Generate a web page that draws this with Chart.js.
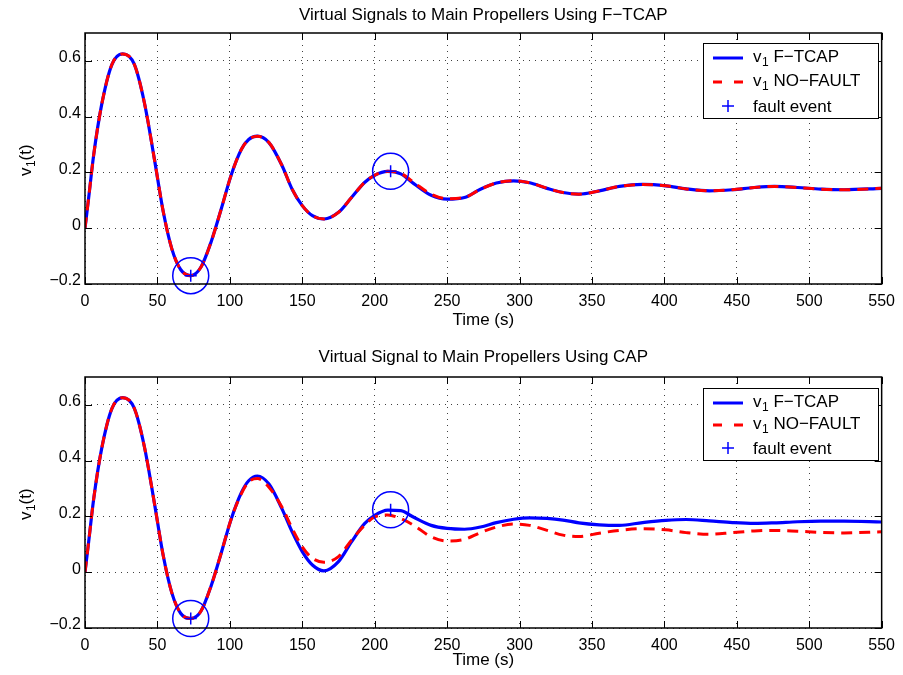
<!DOCTYPE html>
<html>
<head>
<meta charset="utf-8">
<script src="https://cdn.jsdelivr.net/npm/chart.js@4.4.0/dist/chart.umd.min.js"></script>
<style>
    html, body { margin: 0; padding: 0; background: #fff; }
    #wrap { position: relative; width: 903px; height: 675px; }
    canvas { position: absolute; left: 0; }
    #topChart { top: 0; }
    #bottomChart { top: 340px; }
</style>
</head>
<body>
<div id="wrap">
    <canvas id="topChart" width="903" height="340"></canvas>
    <canvas id="bottomChart" width="903" height="335"></canvas>
</div>
<script>
// time samples (s)
const time = [0, 2.5, 6, 11.5, 18.5, 26, 34, 41, 48, 54, 60, 66, 73, 80, 87, 94, 101, 108, 113, 119,
    127, 136, 143, 150, 157, 165, 175, 184, 193, 200, 209, 218, 227, 239, 250, 262, 273, 284, 296, 307,
    319, 330, 341, 355, 369, 385, 401, 415, 431, 447, 462, 476, 492, 508, 524, 550];

// top plot: F-TCAP
const ftcapTop = [0, 0.108, 0.263, 0.443, 0.586, 0.625, 0.588, 0.45, 0.245, 0.06,
    -0.075, -0.148, -0.17, -0.14, -0.05, 0.068, 0.192, 0.283, 0.318, 0.33,
    0.307, 0.225, 0.14, 0.081, 0.045, 0.033, 0.057, 0.11, 0.164, 0.19,
    0.204, 0.195, 0.16, 0.118, 0.104, 0.11, 0.14, 0.162, 0.17, 0.163,
    0.143, 0.128, 0.122, 0.134, 0.15, 0.157, 0.152, 0.141, 0.134, 0.138,
    0.146, 0.15, 0.146, 0.14, 0.138, 0.143];
const nofaultTop = [0, 0.108, 0.263, 0.443, 0.586, 0.625, 0.588, 0.45, 0.245, 0.06,
    -0.075, -0.148, -0.17, -0.14, -0.05, 0.068, 0.192, 0.283, 0.318, 0.33,
    0.307, 0.225, 0.14, 0.081, 0.045, 0.033, 0.057, 0.11, 0.164, 0.19,
    0.204, 0.197, 0.164, 0.122, 0.106, 0.11, 0.14, 0.162, 0.17, 0.163,
    0.143, 0.128, 0.122, 0.134, 0.15, 0.157, 0.152, 0.141, 0.134, 0.138,
    0.146, 0.15, 0.146, 0.14, 0.138, 0.143];

// bottom plot: CAP
const ftcapBottom = [0, 0.108, 0.263, 0.443, 0.586, 0.626, 0.588, 0.45, 0.245, 0.06,
    -0.075, -0.147, -0.166, -0.14, -0.05, 0.068, 0.192, 0.286, 0.328, 0.345,
    0.316, 0.227, 0.145, 0.074, 0.026, 0.005, 0.038, 0.109, 0.174, 0.204,
    0.223, 0.221, 0.197, 0.168, 0.157, 0.154, 0.162, 0.178, 0.19, 0.195,
    0.193, 0.187, 0.177, 0.17, 0.168, 0.178, 0.186, 0.189, 0.184, 0.178,
    0.175, 0.177, 0.181, 0.183, 0.183, 0.18];
const nofaultBottom = [0, 0.108, 0.263, 0.443, 0.586, 0.626, 0.588, 0.45, 0.245, 0.06,
    -0.075, -0.147, -0.166, -0.14, -0.05, 0.068, 0.192, 0.282, 0.324, 0.336,
    0.305, 0.233, 0.157, 0.091, 0.05, 0.036, 0.056, 0.115, 0.168, 0.198,
    0.205, 0.192, 0.168, 0.127, 0.112, 0.118, 0.142, 0.162, 0.173, 0.168,
    0.15, 0.133, 0.128, 0.14, 0.15, 0.156, 0.152, 0.142, 0.136, 0.142,
    0.148, 0.15, 0.147, 0.143, 0.141, 0.145];

// fault events
const faultTimes = [73, 211];
const faultTop = [-0.17, 0.204];
const faultBottom = [-0.166, 0.224];

const xTicks = [0, 50, 100, 150, 200, 250, 300, 350, 400, 450, 500, 550];
const yTicks = [-0.2, 0, 0.2, 0.4, 0.6];

const FONT = '"Liberation Sans", Arial, Helvetica, sans-serif';

function pts(xs, ys) {
    return xs.map((t, i) => ({ x: t, y: ys[i] }));
}

function drawSubText(ctx, x, y, main, sub, rest, size) {
    // draws e.g. v_1 NO-FAULT, left aligned at baseline y
    ctx.font = size + 'px ' + FONT;
    ctx.fillText(main, x, y);
    x += ctx.measureText(main).width;
    ctx.font = Math.round(size * 0.72) + 'px ' + FONT;
    ctx.fillText(sub, x + 0.5, y + 4);
    x += ctx.measureText(sub).width + 0.5;
    ctx.font = size + 'px ' + FONT;
    ctx.fillText(rest, x, y);
}

// Matlab-like decorations: box, inward ticks, title, y label, legend
const matlabAxes = {
    id: 'matlabAxes',
    afterDraw(chart, args, opts) {
        const ctx = chart.ctx;
        const a = chart.chartArea;
        const xs = chart.scales.x, ys = chart.scales.y;
        ctx.save();
        ctx.fillStyle = '#000';
        ctx.strokeStyle = '#000';

        // inward ticks on all four sides
        ctx.lineWidth = 1;
        ctx.beginPath();
        xTicks.forEach(t => {
            const px = Math.round(xs.getPixelForValue(t)) + 0.5;
            ctx.moveTo(px, a.bottom); ctx.lineTo(px, a.bottom - 7);
            ctx.moveTo(px, a.top); ctx.lineTo(px, a.top + 7);
        });
        yTicks.forEach(v => {
            const py = Math.round(ys.getPixelForValue(v)) + 0.5;
            ctx.moveTo(a.left, py); ctx.lineTo(a.left + 7, py);
            ctx.moveTo(a.right, py); ctx.lineTo(a.right - 7, py);
        });
        ctx.stroke();

        // axes box
        ctx.lineWidth = 1.5;
        ctx.strokeRect(a.left, a.top, a.right - a.left, a.bottom - a.top);

        // title
        ctx.font = '17px ' + FONT;
        ctx.textAlign = 'center';
        ctx.textBaseline = 'middle';
        ctx.fillText(opts.title, (a.left + a.right) / 2, opts.titleY);

        // y label v_1(t), rotated
        ctx.save();
        ctx.translate(31, (a.top + a.bottom) / 2 + 2);
        ctx.rotate(-Math.PI / 2);
        ctx.textAlign = 'left';
        ctx.textBaseline = 'alphabetic';
        ctx.font = '17px ' + FONT;
        const wv = ctx.measureText('v').width, wt = ctx.measureText('(t)').width;
        ctx.font = '12px ' + FONT;
        const w1 = ctx.measureText('1').width;
        drawSubText(ctx, -(wv + w1 + wt) / 2, 0, 'v', '1', '(t)', 17);
        ctx.restore();

        // legend
        const L = opts.legend;
        ctx.fillStyle = '#fff';
        ctx.fillRect(L.x, L.y, L.w, L.h);
        ctx.lineWidth = 1;
        ctx.strokeStyle = '#000';
        ctx.strokeRect(L.x + 0.5, L.y + 0.5, L.w, L.h);

        ctx.lineWidth = 3;
        ctx.strokeStyle = '#0000ff';
        ctx.beginPath();
        ctx.moveTo(L.x + 10, L.y + L.rows[0] - 4); ctx.lineTo(L.x + 40, L.y + L.rows[0] - 4);
        ctx.stroke();

        ctx.strokeStyle = '#ff0000';
        ctx.setLineDash([9, 12]);
        ctx.beginPath();
        ctx.moveTo(L.x + 10, L.y + L.rows[1] - 4); ctx.lineTo(L.x + 40, L.y + L.rows[1] - 4);
        ctx.stroke();
        ctx.setLineDash([]);

        ctx.strokeStyle = '#0000ff';
        ctx.lineWidth = 1.5;
        ctx.beginPath();
        const cx = L.x + 25, cy = L.y + L.rows[2] - 6;
        ctx.moveTo(cx - 6, cy); ctx.lineTo(cx + 6, cy);
        ctx.moveTo(cx, cy - 6); ctx.lineTo(cx, cy + 6);
        ctx.stroke();

        ctx.fillStyle = '#000';
        ctx.textAlign = 'left';
        ctx.textBaseline = 'alphabetic';
        drawSubText(ctx, L.x + 50, L.y + L.rows[0], 'v', '1', ' F\u2212TCAP', 17);
        drawSubText(ctx, L.x + 50, L.y + L.rows[1], 'v', '1', ' NO\u2212FAULT', 17);
        ctx.font = '17px ' + FONT;
        ctx.fillText('fault event', L.x + 50, L.y + L.rows[2]);

        ctx.restore();
    }
};

function makeChart(id, blue, red, faults, cfg) {
    return new Chart(document.getElementById(id), {
        type: 'line',
        data: {
            datasets: [
                {
                    label: 'fault event',
                    data: pts(faultTimes, faults),
                    showLine: false,
                    pointStyle: 'cross',
                    pointRadius: 6,
                    pointBorderColor: '#0000ff',
                    pointBorderWidth: 1.5,
                    clip: false,
                    order: 1
                },
                {
                    label: 'fault circle',
                    data: pts(faultTimes, faults),
                    showLine: false,
                    pointStyle: 'circle',
                    pointRadius: 18,
                    pointBackgroundColor: 'rgba(0,0,0,0)',
                    pointBorderColor: '#0000ff',
                    pointBorderWidth: 1.5,
                    clip: false,
                    order: 2
                },
                {
                    label: 'v1 NO-FAULT',
                    data: pts(time, red),
                    borderColor: '#ff0000',
                    borderWidth: 3,
                    borderDash: [11, 7],
                    pointRadius: 0,
                    cubicInterpolationMode: 'monotone',
                    order: 3
                },
                {
                    label: 'v1 F-TCAP',
                    data: pts(time, blue),
                    borderColor: '#0000ff',
                    borderWidth: 3.2,
                    pointRadius: 0,
                    cubicInterpolationMode: 'monotone',
                    order: 4
                }
            ]
        },
        options: {
            responsive: false,
            animation: false,
            events: [],
            layout: { padding: { top: cfg.top, right: 17, left: 0, bottom: 0 } },
            plugins: {
                legend: { display: false },
                tooltip: { enabled: false },
                title: { display: false },
                matlabAxes: { title: cfg.title, titleY: cfg.titleY, legend: cfg.legend }
            },
            scales: {
                x: {
                    type: 'linear',
                    min: 0,
                    max: 550,
                    afterBuildTicks: s => { s.ticks = xTicks.map(v => ({ value: v })); },
                    afterFit: s => { s.height = cfg.xH; },
                    grid: { color: 'rgba(0,0,0,0.75)', lineWidth: 1, drawTicks: false },
                    border: { display: false, dash: [1, 5] },
                    ticks: {
                        color: '#000',
                        font: { family: FONT, size: 16 },
                        padding: 8,
                        maxRotation: 0,
                        autoSkip: false,
                        callback: v => String(v)
                    },
                    title: {
                        display: true,
                        text: 'Time (s)',
                        color: '#000',
                        font: { family: FONT, size: 17 },
                        padding: { top: 0, bottom: cfg.xTitlePad }
                    }
                },
                y: {
                    min: -0.2,
                    max: 0.7,
                    afterBuildTicks: s => { s.ticks = yTicks.map(v => ({ value: v })); },
                    afterFit: s => { s.width = 85; },
                    grid: { color: 'rgba(0,0,0,0.75)', lineWidth: 1, drawTicks: false },
                    border: { display: false, dash: [1, 5] },
                    ticks: {
                        color: '#000',
                        font: { family: FONT, size: 16 },
                        padding: 4,
                        labelOffset: -3,
                        callback: v => (v < 0 ? '\u2212' + Math.abs(v) : String(v))
                    }
                }
            }
        },
        plugins: [matlabAxes]
    });
}

makeChart('topChart', ftcapTop, nofaultTop, faultTop, {
    top: 33, xH: 56, xTitlePad: 9, titleY: 15,
    title: 'Virtual Signals to Main Propellers Using F\u2212TCAP',
    legend: { x: 703, y: 43, w: 175, h: 75, rows: [19, 43, 69] }
});

makeChart('bottomChart', ftcapBottom, nofaultBottom, faultBottom, {
    top: 37, xH: 47, xTitlePad: 4, titleY: 17,
    title: 'Virtual Signal to Main Propellers Using CAP',
    legend: { x: 703, y: 48, w: 175, h: 72, rows: [19, 41, 66] }
});
</script>
</body>
</html>
